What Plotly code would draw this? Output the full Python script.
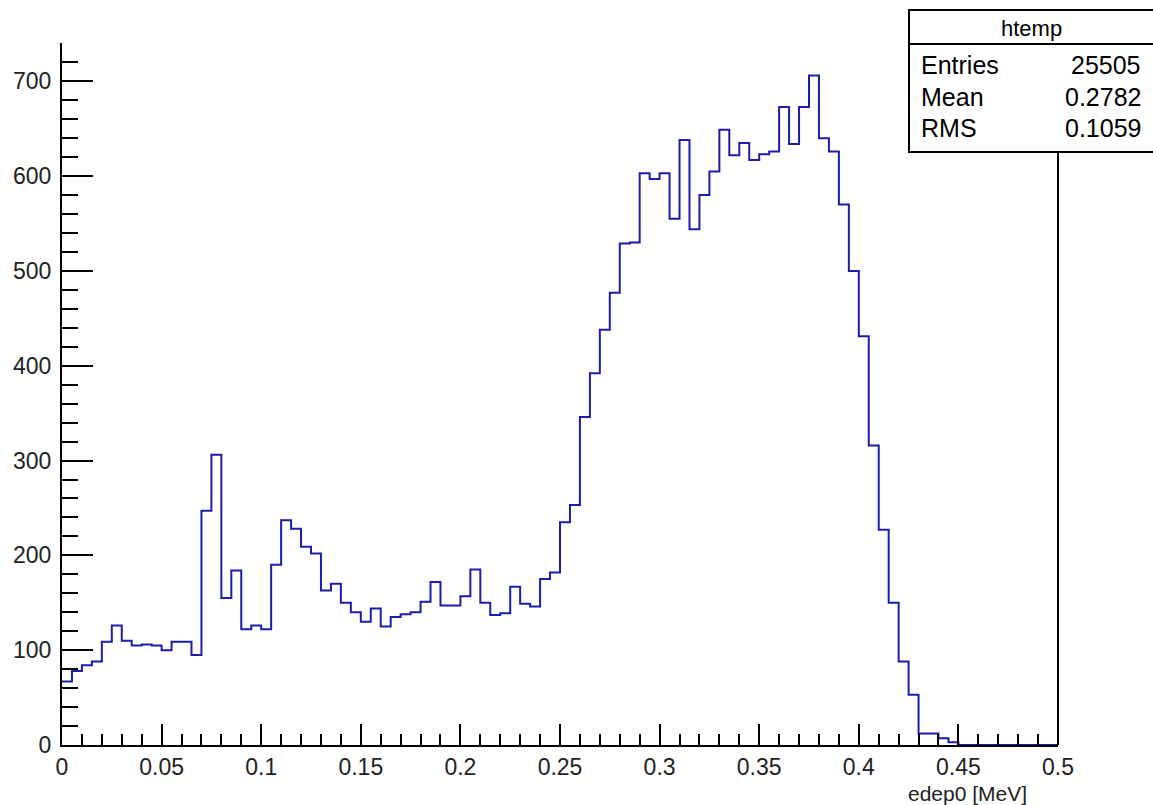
import numpy as np
import plotly.graph_objects as go

# ---- data -------------------------------------------------------------
hist_name = "htemp"
x_title = "edep0 [MeV]"
x_low, x_high, n_bins = 0.0, 0.5, 100
counts = [
    67, 78, 84, 88, 109, 126, 110, 105, 106, 105,
    100, 109, 109, 95, 247, 306, 155, 184, 122, 126,
    122, 190, 237, 228, 209, 202, 163, 170, 150, 140,
    130, 144, 125, 135, 138, 140, 151, 172, 147, 147,
    157, 185, 150, 137, 139, 167, 149, 146, 175, 182,
    235, 253, 346, 392, 438, 477, 529, 530, 603, 597,
    603, 555, 638, 544, 580, 605, 649, 622, 635, 617,
    623, 626, 673, 634, 673, 706, 640, 626, 570, 500,
    431, 316, 227, 150, 88, 53, 12, 12, 7, 3,
    0, 0, 0, 0, 0, 0, 0, 0, 0, 0,
]
x_tickvals = [0.0, 0.05, 0.1, 0.15, 0.2, 0.25, 0.3, 0.35, 0.4, 0.45, 0.5]
x_ticktext = ["0", "0.05", "0.1", "0.15", "0.2", "0.25", "0.3", "0.35", "0.4", "0.45", "0.5"]
y_tickvals = [0, 100, 200, 300, 400, 500, 600, 700]
y_ticktext = ["0", "100", "200", "300", "400", "500", "600", "700"]
stat_labels = ["Entries", "Mean", "RMS"]
stat_values = ["25505", "0.2782", "0.1059"]

# ---- geometry helpers (pixel -> paper) --------------------------------
W, H = 1153, 805
ML, MR, MT, MB = 62, 95, 43, 60
PW, PH = W - ML - MR, H - MT - MB


def px(x):
    return (x - ML) / PW


def py(y):
    return (H - MB - y) / PH


edges = np.linspace(x_low, x_high, n_bins + 1)
xs = list(edges)
ys = list(counts) + [counts[-1]]

FONT = "Liberation Sans, Arial, Helvetica, sans-serif"
BLUE = "#1d1dab"
TXT = "#222222"

fig = go.Figure()
fig.add_trace(go.Scatter(
    x=xs, y=ys, mode="lines", line=dict(color=BLUE, width=2, shape="hv"),
    showlegend=False, hoverinfo="skip",
))

fig.update_layout(
    width=W, height=H,
    margin=dict(l=ML, r=MR, t=MT, b=MB, pad=0),
    paper_bgcolor="white", plot_bgcolor="white",
    font=dict(family=FONT, color="black"),
    showlegend=False,
)
fig.update_xaxes(
    range=[x_low, x_high], showgrid=False, zeroline=False,
    showline=True, linecolor="black", linewidth=2,
    ticks="inside", ticklen=21, tickwidth=2, tickcolor="black",
    tickmode="array", tickvals=x_tickvals, ticktext=x_ticktext, tickangle=0,
    tickfont=dict(size=23, family=FONT, color=TXT),
    ticklabelstandoff=0,
    minor=dict(ticks="inside", ticklen=11, tickwidth=2, tickcolor="black",
               tick0=0, dtick=0.01, showgrid=False),
)
fig.update_yaxes(
    range=[0, 740.4], showgrid=False, zeroline=False,
    showline=True, linecolor="black", linewidth=2,
    ticks="inside", ticklen=31, tickwidth=2, tickcolor="black",
    tickmode="array", tickvals=y_tickvals, ticktext=y_ticktext,
    tickfont=dict(size=23, family=FONT, color=TXT),
    ticklabelstandoff=4,
    minor=dict(ticks="inside", ticklen=16, tickwidth=2, tickcolor="black",
               tick0=0, dtick=20, showgrid=False),
)

# right frame edge below the stats box
fig.add_shape(type="line", xref="paper", yref="paper", x0=1, x1=1, y0=0, y1=py(152),
              line=dict(color="black", width=2))
# stats box
fig.add_shape(type="rect", xref="paper", yref="paper", x0=px(909), x1=px(1165), y0=py(152), y1=py(10),
              line=dict(color="black", width=2), fillcolor="white", layer="above")
fig.add_shape(type="line", xref="paper", yref="paper", x0=px(909), x1=px(1165), y0=py(44), y1=py(44),
              line=dict(color="black", width=2), layer="above")

fig.add_annotation(text=hist_name, xref="paper", yref="paper", x=px(1031), y=py(28),
                   xanchor="center", yanchor="middle", showarrow=False,
                   font=dict(size=22, family=FONT, color="black"))
row_y = [65, 97, 128]
for lab, val, yy in zip(stat_labels, stat_values, row_y):
    fig.add_annotation(text=lab, xref="paper", yref="paper", x=px(919), y=py(yy),
                       xanchor="left", yanchor="middle", showarrow=False,
                       font=dict(size=25, family=FONT, color="black"))
    fig.add_annotation(text=val, xref="paper", yref="paper", x=px(1143), y=py(yy),
                       xanchor="right", yanchor="middle", showarrow=False,
                       font=dict(size=25, family=FONT, color="black"))

fig.add_annotation(text=x_title, xref="paper", yref="paper", x=px(1029), y=py(793),
                   xanchor="right", yanchor="middle", showarrow=False,
                   font=dict(size=21, family=FONT, color=TXT))

fig.write_html("out.html")
